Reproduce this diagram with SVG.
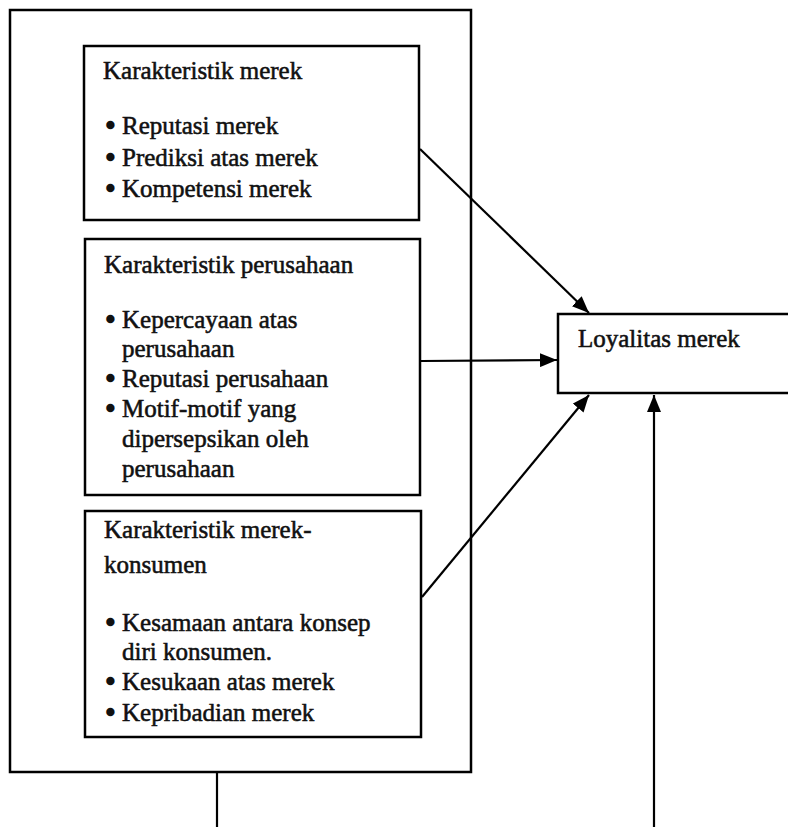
<svg xmlns="http://www.w3.org/2000/svg" width="788" height="827" viewBox="0 0 788 827">
<style>
  .box { fill: #fff; stroke: #000; stroke-width: 2.5; }
  .t { font-family: "Liberation Serif", "Times New Roman", serif; font-size: 25px; fill: #111; stroke: #111; stroke-width: 0.55; }
  .b { stroke-width: 2.4; }
  .ln { stroke: #000; stroke-width: 2.2; fill: none; }
</style>
<defs>
  <marker id="ah" markerUnits="userSpaceOnUse" markerWidth="18" markerHeight="14" refX="17" refY="7" orient="auto">
    <path d="M0,0 L17,7 L0,14 z" fill="#000"/>
  </marker>
</defs>
<rect width="788" height="827" fill="#fff"/>
<g id="outer">
  <rect class="box" x="10" y="10" width="461" height="762"/>
</g>
<g id="merek">
  <rect class="box" x="84" y="46" width="335" height="174"/>
  <text class="t" x="103" y="79">Karakteristik merek</text>
  <text class="t" y="134"><tspan class="b" x="106">•</tspan><tspan x="122">Reputasi merek</tspan></text>
  <text class="t" y="166"><tspan class="b" x="106">•</tspan><tspan x="122">Prediksi atas merek</tspan></text>
  <text class="t" y="197"><tspan class="b" x="106">•</tspan><tspan x="122">Kompetensi merek</tspan></text>
</g>
<g id="perusahaan">
  <rect class="box" x="85" y="239" width="335" height="256"/>
  <text class="t" x="104" y="273">Karakteristik perusahaan</text>
  <text class="t" y="328"><tspan class="b" x="106">•</tspan><tspan x="122">Kepercayaan atas</tspan></text>
  <text class="t" x="122" y="357">perusahaan</text>
  <text class="t" y="387"><tspan class="b" x="106">•</tspan><tspan x="122">Reputasi perusahaan</tspan></text>
  <text class="t" y="417"><tspan class="b" x="106">•</tspan><tspan x="122">Motif-motif yang</tspan></text>
  <text class="t" x="122" y="447">dipersepsikan oleh</text>
  <text class="t" x="122" y="477">perusahaan</text>
</g>
<g id="konsumen">
  <rect class="box" x="85" y="511" width="336" height="226"/>
  <text class="t" x="104" y="538">Karakteristik merek-</text>
  <text class="t" x="104" y="573">konsumen</text>
  <text class="t" y="631"><tspan class="b" x="106">•</tspan><tspan x="122">Kesamaan antara konsep</tspan></text>
  <text class="t" x="122" y="660">diri konsumen.</text>
  <text class="t" y="690"><tspan class="b" x="106">•</tspan><tspan x="122">Kesukaan atas merek</tspan></text>
  <text class="t" y="721"><tspan class="b" x="106">•</tspan><tspan x="122">Kepribadian merek</tspan></text>
</g>
<g id="loyalitas">
  <rect class="box" x="558" y="314" width="240" height="79"/>
  <text class="t" x="578" y="347">Loyalitas merek</text>
</g>
<g id="connectors">
  <line class="ln" x1="420" y1="149" x2="589" y2="313" marker-end="url(#ah)"/>
  <line class="ln" x1="421" y1="361" x2="557" y2="360" marker-end="url(#ah)"/>
  <line class="ln" x1="422" y1="597" x2="589" y2="395" marker-end="url(#ah)"/>
  <line class="ln" x1="217" y1="772" x2="217" y2="830"/>
  <line class="ln" x1="654" y1="830" x2="654" y2="395" marker-end="url(#ah)"/>
</g>
</svg>
